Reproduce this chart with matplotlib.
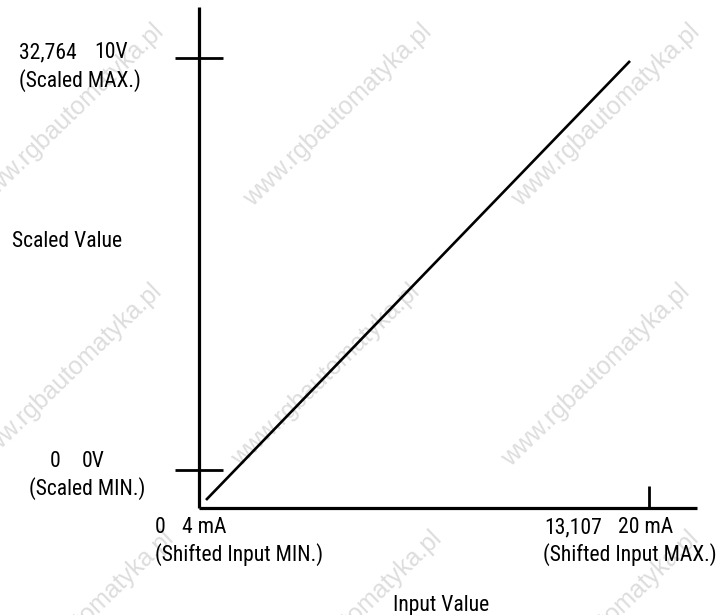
import matplotlib
matplotlib.use("Agg")
import matplotlib.pyplot as plt
from matplotlib import font_manager

# ---- data -------------------------------------------------------------
# scaling line: shifted input counts -> scaled output counts
input_value = [204, 12554]
scaled_value = [-2383, 32487]

# scaled output marks on the vertical axis
scaled_ticks = [0, 32764]
scaled_tick_text = ["32,764", "0"]
scaled_volt_text = ["10V", "0V"]
scaled_desc_text = ["(Scaled MAX.)", "(Scaled MIN.)"]

# shifted input marks on the horizontal axis
input_ticks = [13107]
input_tick_text = ["0", "13,107"]
input_ma_text = ["4 mA", "20 mA"]
input_desc_text = ["(Shifted Input MIN.)", "(Shifted Input MAX.)"]

x_title = "Input Value"
y_title = "Scaled Value"
watermark = "www.rgbautomatyka.pl"

# ---- fonts ------------------------------------------------------------
available = {f.name for f in font_manager.fontManager.ttflist}
narrow = next((n for n in ["Liberation Sans Narrow", "Roboto Condensed",
                           "Open Sans Condensed", "DejaVu Sans"]
               if n in available), "DejaVu Sans")
plt.rcParams["font.family"] = [narrow, "DejaVu Sans"]

W, H = 722, 615
fig = plt.figure(figsize=(W / 100, H / 100), dpi=100)
fig.patch.set_facecolor("white")


def fx(x):
    return x / W


def fy(y):
    return 1 - y / H


# background watermark, kept beneath the drawing
for xe, ye in [(165, 33), (433, 33), (701, 33),
               (163, 293), (421, 293), (691, 293),
               (175, 540), (443, 540), (700, 540)]:
    fig.text(fx(xe), fy(ye), watermark, rotation=44, rotation_mode="anchor",
             ha="right", va="baseline", fontsize=18, color="#dddddd",
             family=["Liberation Sans", "DejaVu Sans"], zorder=-10)

# plot area: left spine at x=199 px, bottom spine at y=508 px
left, right, top, bottom = 199, 697, 7, 508
ax = fig.add_axes([fx(left), fy(bottom), (right - left) / W, (bottom - top) / H])
ax.set_facecolor("none")
ax.set_zorder(5)

x_per_px = 13107 / (649 - 199)
y_per_px = 32764 / (470 - 57.5)
ax.set_xlim(0, (right - left) * x_per_px)
ax.set_ylim(-(bottom - 470) * y_per_px, (470 - top) * y_per_px)

for side in ["top", "right"]:
    ax.spines[side].set_visible(False)
for side in ["left", "bottom"]:
    ax.spines[side].set_linewidth(2.3)
    ax.spines[side].set_color("black")
    ax.spines[side].set_capstyle("butt")

ax.plot(input_value, scaled_value, color="black", lw=1.9,
        solid_capstyle="butt", clip_on=False)

ax.set_yticks(scaled_ticks)
ax.set_yticklabels([])
ax.tick_params(axis="y", direction="inout", length=34.5, width=2.0, color="black")
ax.set_xticks(input_ticks)
ax.set_xticklabels([])
ax.tick_params(axis="x", direction="in", length=15.5, width=2.0, color="black")

FS = 15.6
# vertical-axis annotations
fig.text(fx(19), fy(58), scaled_tick_text[0], fontsize=FS, ha="left", va="baseline")
fig.text(fx(94), fy(58), scaled_volt_text[0], fontsize=FS, ha="left", va="baseline")
fig.text(fx(19), fy(87), scaled_desc_text[0], fontsize=FS, ha="left", va="baseline")
fig.text(fx(50), fy(467), scaled_tick_text[1], fontsize=FS, ha="left", va="baseline")
fig.text(fx(82), fy(467), scaled_volt_text[1], fontsize=FS, ha="left", va="baseline")
fig.text(fx(29), fy(495), scaled_desc_text[1], fontsize=FS, ha="left", va="baseline")
fig.text(fx(12), fy(247), y_title, fontsize=FS, ha="left", va="baseline")

# horizontal-axis annotations
fig.text(fx(155), fy(533), input_tick_text[0], fontsize=FS, ha="left", va="baseline")
fig.text(fx(182), fy(533), input_ma_text[0], fontsize=FS, ha="left", va="baseline")
fig.text(fx(155), fy(561), input_desc_text[0], fontsize=FS, ha="left", va="baseline")
fig.text(fx(544), fy(533), input_tick_text[1], fontsize=FS, ha="left", va="baseline")
fig.text(fx(618), fy(533), input_ma_text[1], fontsize=FS, ha="left", va="baseline")
fig.text(fx(543), fy(561), input_desc_text[1], fontsize=FS, ha="left", va="baseline")
fig.text(fx(393), fy(611), x_title, fontsize=FS, ha="left", va="baseline")

fig.savefig("out.png", dpi=100, facecolor="white")
